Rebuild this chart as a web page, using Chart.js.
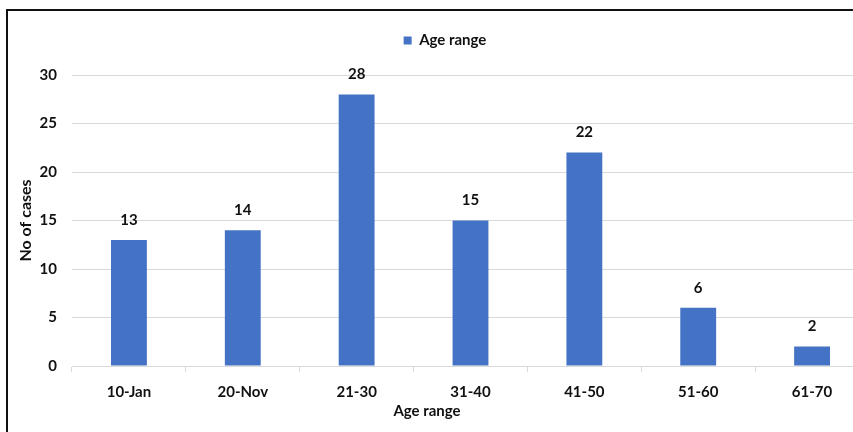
<!DOCTYPE html>
<html>
<head>
<meta charset="utf-8">
<script src="https://cdn.jsdelivr.net/npm/chart.js@4"></script>
<style>
  html, body { margin: 0; padding: 0; background: #fff; overflow: hidden; }
  #frame { position: absolute; left: 6px; top: 9px; width: 900px; height: 460px; border: 2px solid #111; }
  #box { position: absolute; left: 7px; top: 10px; width: 876px; height: 440px; }
</style>
</head>
<body>
<div id="frame"></div>
<div id="box"><canvas id="myChart"></canvas></div>
<script>
var ageLabels = ["10-Jan", "20-Nov", "21-30", "31-40", "41-50", "51-60", "61-70"]
var cases = [13, 14, 28, 15, 22, 6, 2]
var seriesName = "Age range"
var yTitle = "No of cases"
var xTitle = "Age range"

var fontName = "Lato, 'Open Sans', sans-serif"

// numbers above the bars
var valueLabels = {
  id: "valueLabels",
  afterDatasetsDraw: function(chart) {
    var ctx = chart.ctx
    var meta = chart.getDatasetMeta(0)
    ctx.save()
    ctx.font = "bold 15px " + fontName
    ctx.fillStyle = "#111"
    ctx.textAlign = "center"
    ctx.textBaseline = "middle"
    meta.data.forEach(function(bar, i) {
      ctx.fillText(cases[i], bar.x, bar.y - 20)
    })
    ctx.restore()
  }
}

// x axis title, placed like the excel one (not centred on plot)
var xTitlePlugin = {
  id: "xTitlePlugin",
  afterDraw: function(chart) {
    var ctx = chart.ctx
    ctx.save()
    ctx.font = "bold 15px " + fontName
    ctx.fillStyle = "#111"
    ctx.textAlign = "center"
    ctx.textBaseline = "middle"
    ctx.fillText(xTitle, 420, 401)
    ctx.restore()
  }
}

// empty box between legend and plot, for the gap excel leaves
// also nudges the legend a bit right
var gapPlugin = {
  id: "gapPlugin",
  beforeInit: function(chart) {
    Chart.layouts.addBox(chart, {
      position: "top",
      weight: 500,
      fullSize: true,
      options: {},
      isHorizontal: function() { return true },
      update: function(maxWidth) { this.width = maxWidth; this.height = 17 },
      draw: function() {}
    })
  },
  afterLayout: function(chart) {
    if (chart.legend) {
      chart.legend.left += 7
      chart.legend.right += 7
    }
  }
}

new Chart(document.getElementById("myChart"), {
  type: "bar",
  data: {
    labels: ageLabels,
    datasets: [{
      label: seriesName,
      data: cases,
      backgroundColor: "#4472C4",
      borderWidth: 0,
      barPercentage: 0.9,
      categoryPercentage: 0.35
    }]
  },
  options: {
    responsive: true,
    maintainAspectRatio: false,
    animation: false,
    layout: { padding: { top: 3, right: 14, left: 0, bottom: 0 } },
    plugins: {
      tooltip: { enabled: false },
      legend: {
        position: "top",
        labels: {
          boxWidth: 8,
          boxHeight: 8,
          padding: 20,
          color: "#111",
          font: { family: fontName, size: 15, weight: "bold" }
        }
      }
    },
    scales: {
      x: {
        afterFit: function(scale) { scale.height = 84 },
        grid: { offset: true, drawOnChartArea: false, drawTicks: true, tickLength: 6, color: "#d9d9d9" },
        border: { display: true, color: "#d9d9d9" },
        ticks: { color: "#111", padding: 11, font: { family: fontName, size: 15, weight: "bold" } }
      },
      y: {
        min: 0,
        max: 30,
        afterFit: function(scale) { scale.width = 65 },
        grid: { color: "#d9d9d9", drawTicks: false },
        border: { display: false },
        ticks: { stepSize: 5, color: "#111", padding: 15, font: { family: fontName, size: 15, weight: "bold" } },
        title: { display: true, text: yTitle, color: "#111", padding: { top: 9, bottom: 0 }, font: { family: fontName, size: 16, weight: "bold" } }
      }
    }
  },
  plugins: [valueLabels, xTitlePlugin, gapPlugin]
})
</script>
</body>
</html>
